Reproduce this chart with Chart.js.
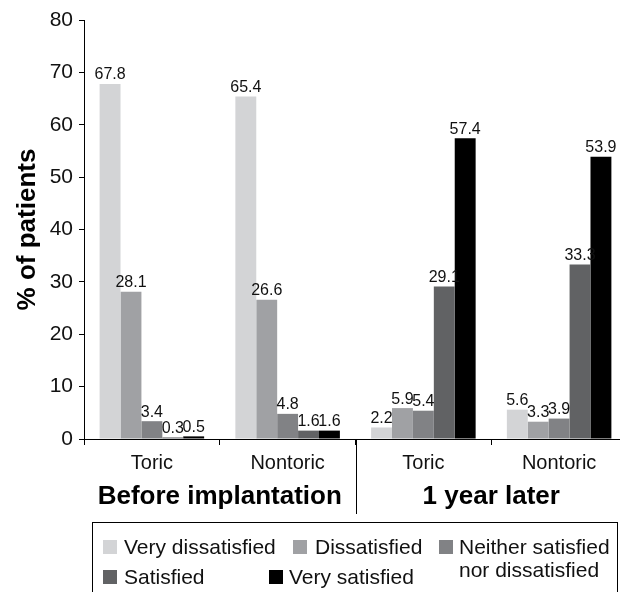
<!DOCTYPE html>
<html>
<head>
<meta charset="utf-8">
<script src="https://cdn.jsdelivr.net/npm/chart.js@4/dist/chart.umd.min.js"></script>
<style>
html, body { margin:0; padding:0; overflow:hidden; background:#fff; }
#wrap { position:relative; width:630px; height:592px; }
#legend { position:absolute; left:92px; top:522px; width:526px; height:80px; border:1px solid #000; box-sizing:border-box;
  font-family:"Liberation Sans", Arial, sans-serif; font-size:21px; color:#111; }
.item { position:absolute; white-space:nowrap; line-height:23px; }
.sw { position:absolute; width:14px; height:14px; }
</style>
</head>
<body>
<div id="wrap">
<canvas id="c" width="630" height="592"></canvas>
<div id="legend"></div>
</div>
<script>
const categories = ["Toric", "Nontoric", "Toric", "Nontoric"];
const groups = ["Before implantation", "1 year later"];
const seriesNames = ["Very dissatisfied", "Dissatisfied", "Neither satisfied nor dissatisfied", "Satisfied", "Very satisfied"];
const veryDissatisfied = [67.8, 65.4, 2.2, 5.6];
const dissatisfied = [28.1, 26.6, 5.9, 3.3];
const neither = [3.4, 4.8, 5.4, 3.9];
const satisfied = [0.3, 1.6, 29.1, 33.3];
const verySatisfied = [0.5, 1.6, 57.4, 53.9];
const yTicks = [0, 10, 20, 30, 40, 50, 60, 70, 80];

const colors = ["#d3d4d6", "#a0a1a4", "#818285", "#616264", "#000000"];
const FONT = "'Liberation Sans', Arial, sans-serif";
const values = [veryDissatisfied, dissatisfied, neither, satisfied, verySatisfied];

const labelPlugin = {
  id: 'valueLabels',
  afterDatasetsDraw(chart) {
    const ctx = chart.ctx;
    ctx.save();
    ctx.font = "16px " + FONT;
    ctx.fillStyle = "#111";
    ctx.textAlign = "center";
    ctx.textBaseline = "bottom";
    chart.data.datasets.forEach((ds, i) => {
      const meta = chart.getDatasetMeta(i);
      meta.data.forEach((bar, j) => {
        ctx.fillText(ds.data[j].toFixed(1), bar.x, bar.y - 1);
      });
    });
    ctx.restore();
  }
};

const groupPlugin = {
  id: 'groups',
  afterDraw(chart) {
    const ctx = chart.ctx;
    const x = chart.scales.x;
    const area = chart.chartArea;
    ctx.save();
    const mid = (x.getPixelForValue(1) + x.getPixelForValue(2)) / 2;
    ctx.strokeStyle = "#000";
    ctx.lineWidth = 1;
    ctx.beginPath();
    ctx.moveTo(Math.round(mid) + 0.5, area.bottom);
    ctx.lineTo(Math.round(mid) + 0.5, 514);
    ctx.stroke();
    ctx.font = "bold 26px " + FONT;
    ctx.fillStyle = "#000";
    ctx.textAlign = "center";
    ctx.textBaseline = "middle";
    const c1 = (x.getPixelForValue(0) + x.getPixelForValue(1)) / 2;
    const c2 = (x.getPixelForValue(2) + x.getPixelForValue(3)) / 2;
    ctx.fillText(groups[0], c1, 497);
    ctx.fillText(groups[1], c2, 497);
    ctx.restore();
  }
};

new Chart(document.getElementById('c'), {
  type: 'bar',
  data: {
    labels: categories,
    datasets: values.map((v, i) => ({
      label: seriesNames[i],
      data: v,
      backgroundColor: colors[i],
      borderWidth: 0,
      categoryPercentage: 0.77,
      barPercentage: 1.0
    }))
  },
  options: {
    responsive: false,
    animation: false,
    layout: { padding: { top: 20, right: 3, left: 0, bottom: 0 } },
    plugins: { legend: { display: false }, tooltip: { enabled: false } },
    scales: {
      x: {
        afterFit(s) { s.height = 592 - 439; },
        grid: { display: true, offset: true, drawOnChartArea: false, drawTicks: true, tickLength: 6, color: "#000", lineWidth: 1 },
        border: { display: true, color: "#000", width: 1 },
        ticks: { color: "#111", font: { family: FONT, size: 20 }, padding: 6 }
      },
      y: {
        min: 0, max: 80,
        afterFit(s) { s.width = 84; },
        afterBuildTicks(s) { s.ticks = yTicks.map(v => ({ value: v })); },
        grid: { display: true, drawOnChartArea: false, drawTicks: true, tickLength: 5, color: "#000", lineWidth: 1 },
        border: { display: true, color: "#000", width: 1 },
        ticks: { color: "#111", font: { family: FONT, size: 21 }, padding: 6 },
        title: { display: true, text: "% of patients", color: "#000", font: { family: FONT, size: 26, weight: "bold" }, padding: { top: 12, bottom: 0 } }
      }
    }
  },
  plugins: [labelPlugin, groupPlugin]
});

// HTML legend
const legendPos = [
  { sx: 10, sy: 17, tx: 31, ty: 12 },
  { sx: 200, sy: 17, tx: 222, ty: 12 },
  { sx: 346, sy: 17, tx: 366, ty: 12 },
  { sx: 10, sy: 47, tx: 31, ty: 42 },
  { sx: 176, sy: 47, tx: 196, ty: 42 }
];
const legendText = ["Very dissatisfied", "Dissatisfied", "Neither satisfied<br>nor dissatisfied", "Satisfied", "Very satisfied"];
const lg = document.getElementById('legend');
legendPos.forEach((p, i) => {
  const sw = document.createElement('div');
  sw.className = 'sw';
  sw.style.left = p.sx + 'px'; sw.style.top = p.sy + 'px'; sw.style.background = colors[i];
  lg.appendChild(sw);
  const t = document.createElement('div');
  t.className = 'item';
  t.style.left = p.tx + 'px'; t.style.top = p.ty + 'px';
  t.innerHTML = legendText[i];
  lg.appendChild(t);
});
</script>
</body>
</html>
